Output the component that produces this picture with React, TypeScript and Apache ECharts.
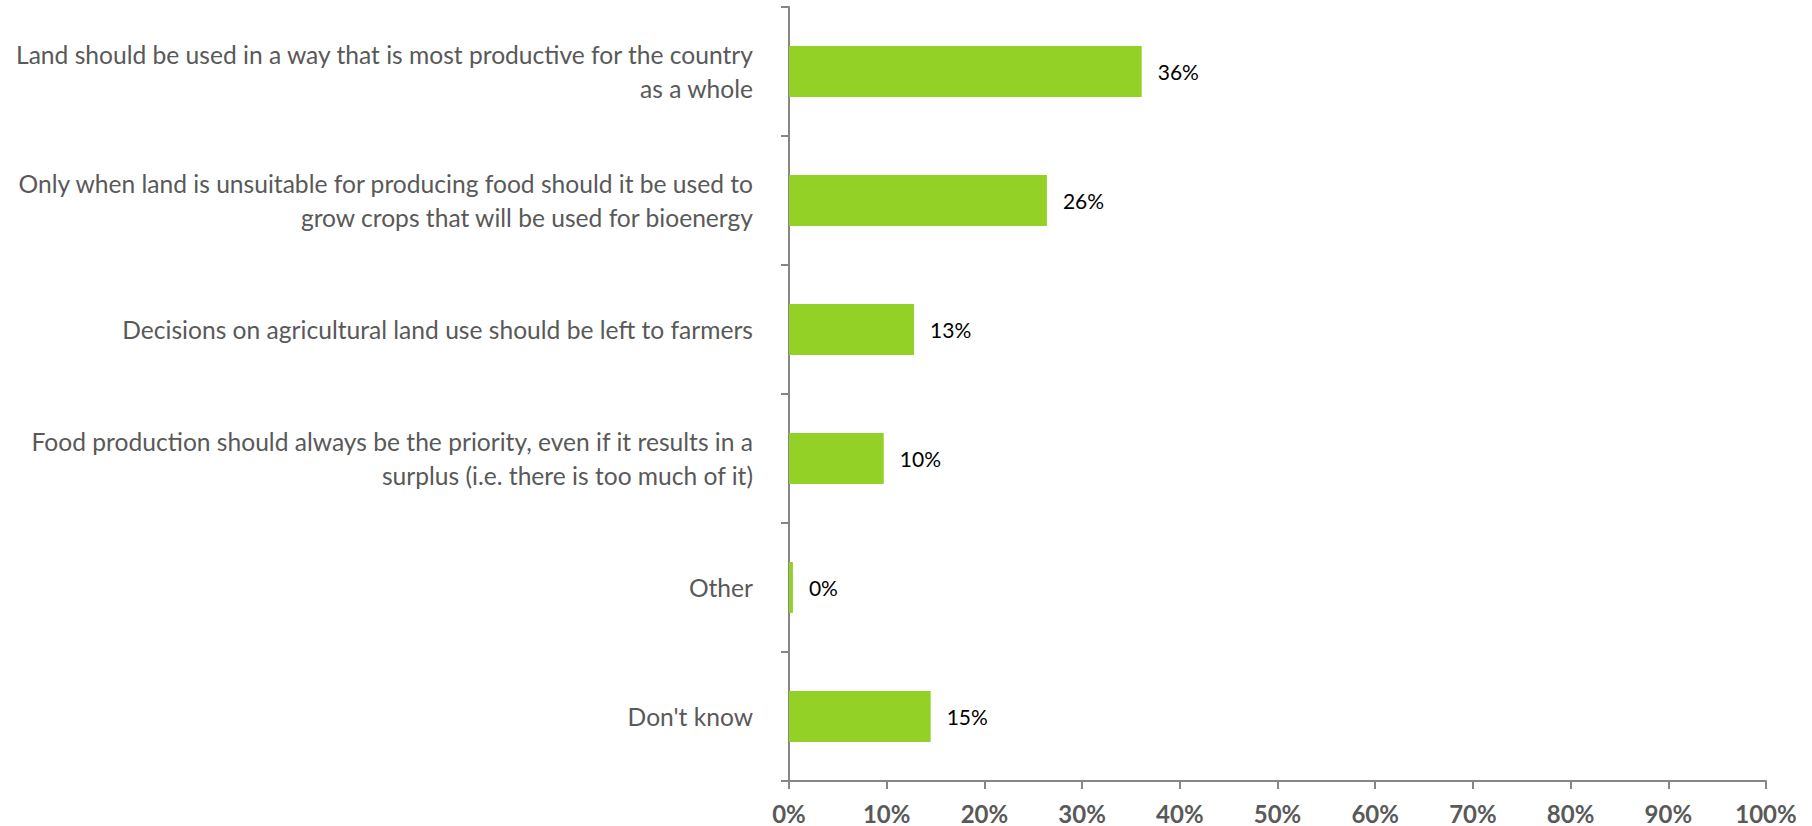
import React, { useEffect, useRef } from "react";
import * as echarts from "echarts";

const categories: string[] = [
  "Land should be used in a way that is most productive for the country\nas a whole",
  "Only when land is unsuitable for producing food should it be used to\ngrow crops that will be used for bioenergy",
  "Decisions on agricultural land use should be left to farmers",
  "Food production should always be the priority, even if it results in a\nsurplus (i.e. there is too much of it)",
  "Other",
  "Don't know",
];
const values: number[] = [36.1, 26.4, 12.8, 9.7, 0.4, 14.5];
const xTicks: number[] = [0, 10, 20, 30, 40, 50, 60, 70, 80, 90, 100];

export default function App() {
  const ref = useRef<HTMLDivElement>(null);
  useEffect(() => {
    if (!ref.current) return;
    const chart = echarts.init(ref.current, null, { renderer: "svg" });
    const axisColor = "#868686";
    chart.setOption({
      animation: false,
      grid: { left: 789, right: 46, top: 7, bottom: 45, containLabel: false },
      xAxis: {
        type: "value",
        min: xTicks[0],
        max: xTicks[xTicks.length - 1],
        interval: 10,
        splitLine: { show: false },
        axisLine: { show: true, lineStyle: { color: axisColor, width: 2 } },
        axisTick: { show: true, length: 8, lineStyle: { color: axisColor, width: 2 } },
        axisLabel: {
          formatter: (v: number) => v + "%",
          color: "#595959",
          fontFamily: "Lato",
          fontWeight: "bold",
          fontSize: 24,
          lineHeight: 20,
          margin: 22,
        },
      },
      yAxis: {
        type: "category",
        data: categories,
        inverse: true,
        axisLine: { show: true, lineStyle: { color: axisColor, width: 2 } },
        axisTick: { show: true, length: 8, lineStyle: { color: axisColor, width: 2 } },
        axisLabel: {
          color: "#595959",
          fontFamily: "Lato",
          fontSize: 24.6,
          lineHeight: 34,
          margin: 36,
          align: "right",
        },
      },
      series: [
        {
          type: "bar",
          data: values,
          barWidth: 51,
          itemStyle: { color: "#94D126" },
          label: {
            show: true,
            position: "right",
            distance: 16,
            formatter: (p: any) => Math.round(p.value) + "%",
            color: "#000000",
            fontFamily: "Lato",
            fontSize: 21,
          },
        },
      ],
    });
    return () => chart.dispose();
  }, []);
  return (
    <div
      ref={ref}
      style={{ position: "fixed", left: 0, top: 0, width: 1812, height: 826, background: "#ffffff" }}
    />
  );
}
